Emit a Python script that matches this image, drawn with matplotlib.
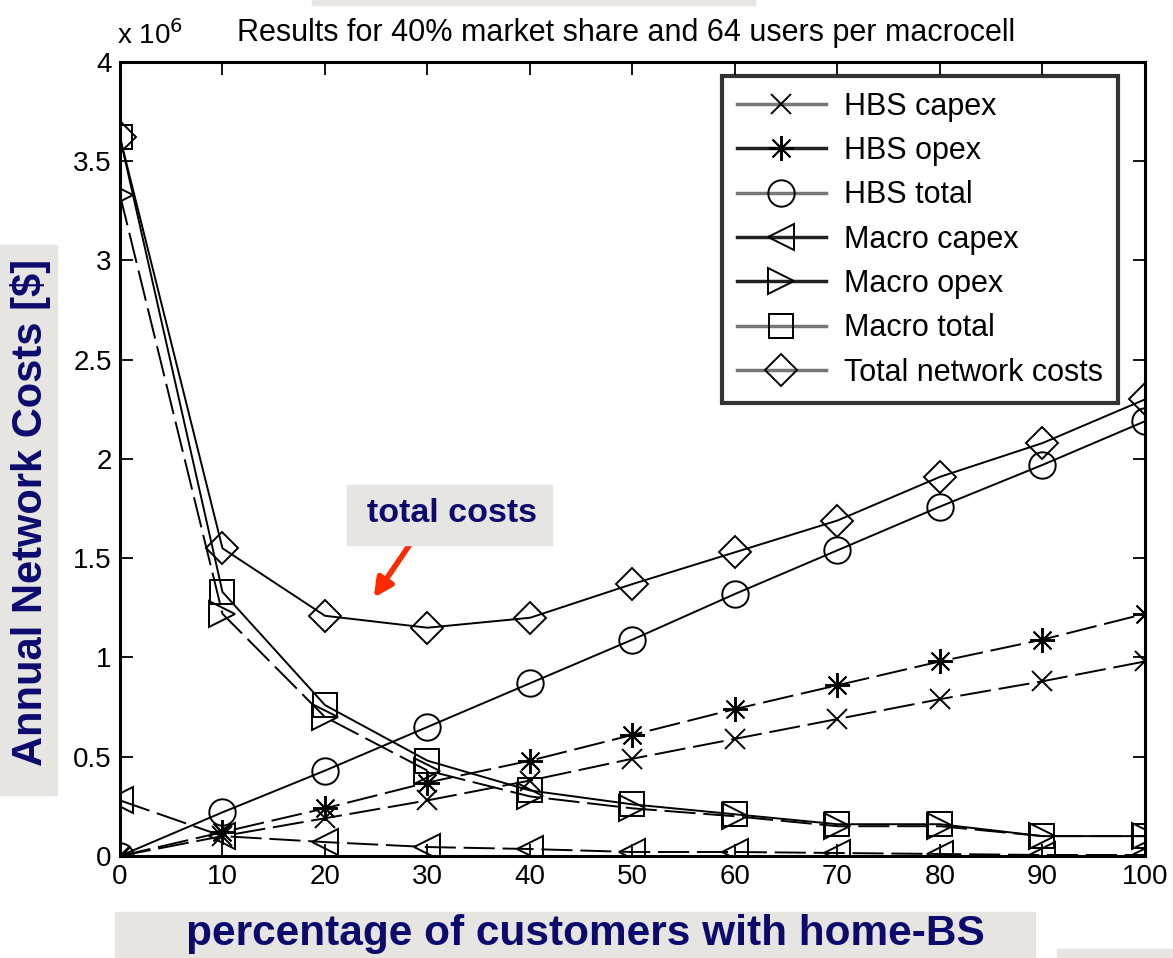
import matplotlib.pyplot as plt
from matplotlib.patches import Rectangle
from matplotlib.lines import Line2D

plt.rcParams['font.family'] = ['Liberation Sans', 'DejaVu Sans']

# percentage of customers with home-BS
pct = [0, 10, 20, 30, 40, 50, 60, 70, 80, 90, 100]

# annual costs in units of 1e6 $
hbsCapex = [0, 0.10, 0.19, 0.28, 0.38, 0.49, 0.59, 0.69, 0.79, 0.88, 0.98]
hbsOpex = [0, 0.12, 0.24, 0.37, 0.48, 0.61, 0.74, 0.86, 0.98, 1.09, 1.22]
hbsTotal = [0, 0.22, 0.43, 0.65, 0.87, 1.09, 1.32, 1.54, 1.76, 1.97, 2.19]
macroCapex = [0.28, 0.10, 0.07, 0.045, 0.035, 0.02, 0.02, 0.015, 0.01, 0.005, 0.005]
macroOpex = [3.33, 1.22, 0.70, 0.43, 0.30, 0.24, 0.20, 0.15, 0.15, 0.10, 0.10]
macroTotal = [3.62, 1.33, 0.76, 0.48, 0.33, 0.26, 0.21, 0.16, 0.16, 0.10, 0.10]
totalCosts = [3.62, 1.55, 1.21, 1.15, 1.20, 1.37, 1.53, 1.69, 1.91, 2.08, 2.30]

seriesNames = ["HBS capex", "HBS opex", "HBS total", "Macro capex",
               "Macro opex", "Macro total", "Total network costs"]
seriesData = [hbsCapex, hbsOpex, hbsTotal, macroCapex, macroOpex, macroTotal, totalCosts]
markers = ["x", (8, 2, 0), "o", "<", ">", "s", "D"]
dash = (0, (16, 4))
styles = [dash, dash, "-", dash, dash, "-", "-"]
msizes = [14, 18, 19, 19, 19, 17, 16]
legendColors = ["#777777", "#222222", "#777777", "#222222", "#222222", "#777777", "#777777"]

navy = "#0d0a6e"
boxGray = "#e6e5e1"

fig = plt.figure(figsize=(11.73, 9.58), dpi=100)
ax = fig.add_axes([0.1023, 0.1065, 0.8738, 0.8288])

handles = []
for name, vals, m, ls, ms, lc in zip(seriesNames, seriesData, markers, styles, msizes, legendColors):
    ax.plot(pct, vals, color="black", linestyle=ls, linewidth=1.4,
            marker=m, markersize=ms, markerfacecolor="none", markeredgecolor="black",
            markeredgewidth=1.4)
    handles.append(Line2D([], [], color=lc, linewidth=2.5, marker=m, markersize=ms,
                          markerfacecolor="none", markeredgecolor="black",
                          markeredgewidth=1.4))

ax.set_xlim(0, 100)
ax.set_ylim(0, 4)
ax.set_xticks(pct)
ax.set_yticks([0, 0.5, 1, 1.5, 2, 2.5, 3, 3.5, 4])
ax.set_yticklabels(["0", "0.5", "1", "1.5", "2", "2.5", "3", "3.5", "4"])
ax.tick_params(direction="in", length=9, width=1.3, labelsize=20, top=True, right=True, pad=6)
for sp in ax.spines.values():
    sp.set_linewidth(2.2)

ax.text(-0.3, 4.06, r"x 10$^6$", fontsize=20, ha="left", va="bottom")
ax.text(49.4, 4.07, "Results for 40% market share and 64 users per macrocell",
        fontsize=22, ha="center", va="bottom")

leg = ax.legend(handles, seriesNames, loc="upper right", bbox_to_anchor=(0.974, 0.982),
                borderaxespad=0, fontsize=22, frameon=True, fancybox=False, edgecolor="black",
                handlelength=2.9, labelspacing=0.47, borderpad=0.5, handletextpad=0.6)
leg.get_frame().set_linewidth(3)

# decorative slide overlays
fig.patches.append(Rectangle((0, 1 - 795 / 958), 57 / 1173, 550 / 958,
                             transform=fig.transFigure, color=boxGray, zorder=5))
fig.text(31 / 1173, 1 - 512 / 958, "Annual Network Costs [$]", rotation=90,
         fontsize=30, fontweight="bold", color=navy, ha="center", va="center", zorder=6)

fig.patches.append(Rectangle((115 / 1173, 0), 920 / 1173, 46 / 958,
                             transform=fig.transFigure, color=boxGray, zorder=5))
fig.text(585 / 1173, 1 - 934 / 958, "percentage of customers with home-BS",
         fontsize=30.5, fontweight="bold", color=navy, ha="center", va="center", zorder=6)

fig.patches.append(Rectangle((312 / 1173, 1 - 5 / 958), 443 / 1173, 5 / 958,
                             transform=fig.transFigure, color=boxGray, zorder=5))
fig.patches.append(Rectangle((1057 / 1173, 0), 116 / 1173, 9 / 958,
                             transform=fig.transFigure, color=boxGray, zorder=5))

fig.patches.append(Rectangle((347 / 1173, 1 - 545 / 958), 205 / 1173, 60 / 958,
                             transform=fig.transFigure, color=boxGray, zorder=5))
fig.text(452 / 1173, 1 - 513 / 958, "total costs", fontsize=24.5, fontweight="bold",
         color=navy, ha="center", va="center", zorder=6)
ax.annotate("", xy=(24.6, 1.29), xytext=(29.2, 1.64), xycoords="data",
            arrowprops=dict(arrowstyle="-|>,head_length=1.1,head_width=0.55",
                            color="#ff2a00", lw=4), zorder=7)

plt.savefig("out.png", dpi=100)
